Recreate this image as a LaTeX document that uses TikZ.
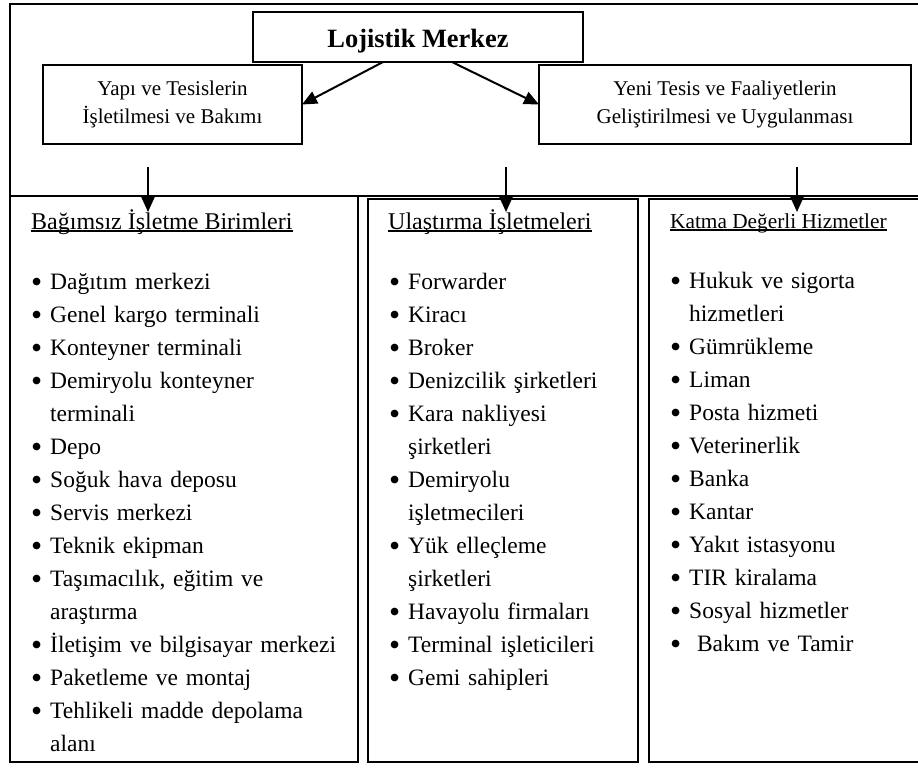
\documentclass[tikz,border=0pt]{standalone}
\usepackage{fontspec}
\usepackage{graphicx}
\setmainfont{Liberation Serif}
\usetikzlibrary{arrows.meta,calc}
\setlength{\parskip}{0pt}

% bullet items with hanging indent for continuation lines
\newcommand\bdot{\raisebox{-3.6pt}{\scalebox{1.35}{\textbullet}}}
\newcommand\bfirst{\hangindent=19pt\hangafter=1\makebox[19pt][l]{\bdot}}
\newcommand\blt{\par\noindent\bfirst}

\begin{document}
\begin{tikzpicture}[x=1pt,y=-1pt,
  box/.style={draw, line width=1.5pt, inner sep=0pt, outer sep=0pt, anchor=north west},
  arr/.style={line width=2pt, -{Triangle[length=15pt,width=13pt]}},
  hdr/.style={inner sep=0pt, anchor=base west, font=\fontsize{24}{33}\selectfont},
  lst/.style={inner sep=0pt, anchor=base west,
              font=\fontsize{23.5}{33}\selectfont},
  uline/.style={line width=1.3pt},
  sub/.style={box, minimum height=79pt, align=center, font=\fontsize{21}{28}\selectfont}]

\useasboundingbox (0,0) rectangle (918,772);

% outer frame of the upper part
\node[box, minimum width=910pt, minimum height=192pt] (frame) at (10,4) {};

% top level and the two activity boxes
\node[box, line width=1.7pt, minimum width=330pt, minimum height=50pt,
      text height=20pt, text depth=0pt,
      font=\bfseries\fontsize{26.4}{30}\selectfont] (lm) at (253,12) {Lojistik Merkez};
\node[sub, minimum width=259pt] (yapi) at (43,65) {Yapı ve Tesislerin\\İşletilmesi ve Bakımı};
\node[sub, minimum width=372pt] (yeni) at (539,65) {Yeni Tesis ve Faaliyetlerin\\Geliştirilmesi ve Uygulanması};

\draw[arr] ($(lm.south west)+(130,0)$) -- (yapi.east);
\draw[arr] ($(lm.south east)+(-131,0)$) -- (yeni.west);

% the three columns
\node[box, minimum width=348pt, minimum height=566pt] (col1) at (10,196) {};
\node[box, minimum width=270pt, minimum height=563pt] (col2) at (368,199) {};
\node[box, minimum width=271pt, minimum height=563pt] (col3) at (649,199) {};

\coordinate (s1) at (148,167); \coordinate (t1) at (148,212);
\coordinate (s2) at (506,167); \coordinate (t2) at (506,212);
\coordinate (s3) at (797,167); \coordinate (t3) at (797,212);
\draw[arr] (s1) -- (t1);
\draw[arr] (s2) -- (t2);
\draw[arr] (s3) -- (t3);

% column headings
\node[hdr] (h1) at (31,229) {Bağımsız İşletme Birimleri};
\node[hdr] (h2) at (388,229) {Ulaştırma İşletmeleri};
\node[hdr, font=\fontsize{21.3}{28}\selectfont] (h3) at (670,228) {Katma Değerli Hizmetler};
\draw[uline] ([yshift=-2pt]h1.base west) -- ([yshift=-2pt]h1.base east);
\draw[uline] ([yshift=-2pt]h2.base west) -- ([yshift=-2pt]h2.base east);
\draw[uline] ([yshift=-2pt]h3.base west) -- ([yshift=-2pt]h3.base east);

% column lists
\node[lst, text width=322pt] (l1) at (31,289) {%
\bfirst Dağıtım merkezi
\blt Genel kargo terminali
\blt Konteyner terminali
\blt Demiryolu konteyner\newline terminali
\blt Depo
\blt Soğuk hava deposu
\blt Servis merkezi
\blt Teknik ekipman
\blt Taşımacılık, eğitim ve\newline araştırma
\blt İletişim ve bilgisayar merkezi
\blt Paketleme ve montaj
\blt Tehlikeli madde depolama\newline alanı\par};

\node[lst, text width=245pt] (l2) at (389,289) {%
\bfirst Forwarder
\blt Kiracı
\blt Broker
\blt Denizcilik şirketleri
\blt Kara nakliyesi\newline şirketleri
\blt Demiryolu\newline işletmecileri
\blt Yük elleçleme\newline şirketleri
\blt Havayolu firmaları
\blt Terminal işleticileri
\blt Gemi sahipleri\par};

\node[lst, text width=240pt] (l3) at (670,288) {%
\bfirst Hukuk ve sigorta\newline hizmetleri
\blt Gümrükleme
\blt Liman
\blt Posta hizmeti
\blt Veterinerlik
\blt Banka
\blt Kantar
\blt Yakıt istasyonu
\blt TIR kiralama
\blt Sosyal hizmetler
\blt \ Bakım ve Tamir\par};

\end{tikzpicture}
\end{document}
